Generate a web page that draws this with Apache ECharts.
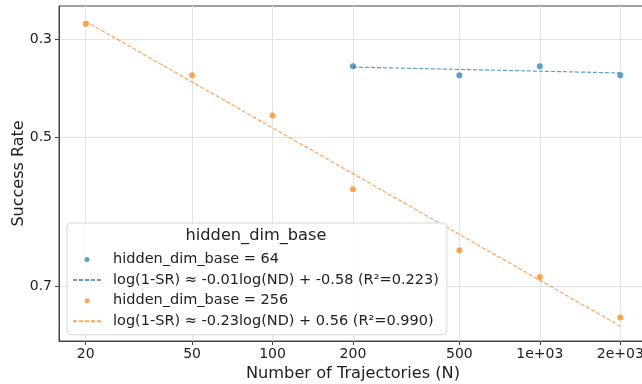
<!DOCTYPE html>
<html>
<head>
<meta charset="utf-8">
<script src="https://cdn.jsdelivr.net/npm/echarts@6/dist/echarts.min.js"></script>
<style>html,body{margin:0;padding:0;background:#fff}#c{width:642px;height:384px}</style>
</head>
<body>
<div id="c"></div>
<script>
// x: number of trajectories, y: success rate (plotted as 1 - SR on a log axis)
const xTicks = [20, 50, 100, 200, 500, 1000, 2000];
const xTickLabels = ['20', '50', '100', '200', '500', '1e+03', '2e+03'];
const yTicks = [0.3, 0.5, 0.7];

const n64 = [200, 500, 1000, 2000];
const sr64 = [0.361, 0.3805, 0.361, 0.3805];
const fit64N = [200, 2000];
const fit64SR = [0.363, 0.3757];

const n256 = [20, 50, 100, 200, 500, 1000, 2000];
const sr256 = [0.2616, 0.3805, 0.4605, 0.581, 0.660, 0.690, 0.730];
const fit256N = [20, 2000];
const fit256SR = [0.2547, 0.738];

const names = [
  'hidden_dim_base = 64',
  'log(1-SR) ≈ -0.01log(ND) + -0.58 (R²=0.223)',
  'hidden_dim_base = 256',
  'log(1-SR) ≈ -0.23log(ND) + 0.56 (R²=0.990)'
];
const legendTitle = 'hidden_dim_base';

const toPts = (xs, srs) => xs.map((x, i) => [x, 1 - srs[i]]);
const FONT = 'DejaVu Sans';
const BLUE = '#1f77b4', ORANGE = '#ff7f0e';
const dotIcon = 'path://M0,0M28,14M11.5,7a2.5,2.5 0 1,0 5,0a2.5,2.5 0 1,0 -5,0';

const chart = echarts.init(document.getElementById('c'), null, {renderer: 'canvas'});
chart.setOption({
  animation: false,
  backgroundColor: '#fff',
  grid: {left: 59, top: 6, width: 588, height: 335, show: true, borderColor: '#444', borderWidth: 1,
         containLabel: false, outerBoundsMode: 'none'},
  xAxis: {
    type: 'log', logBase: 10, min: 15.89, max: 2518,
    name: 'Number of Trajectories (N)', nameLocation: 'middle', nameGap: 25, nameMoveOverlap: false,
    nameTextStyle: {fontFamily: FONT, fontSize: 16.2, color: '#222'},
    axisLine: {show: true, lineStyle: {color: '#444', width: 1}},
    axisTick: {show: true, length: 4, inside: false, customValues: xTicks, lineStyle: {color: '#444'}},
    minorTick: {show: false},
    axisLabel: {customValues: xTicks, margin: 6, fontFamily: FONT, fontSize: 14, color: '#222',
      formatter: v => { const i = xTicks.findIndex(t => Math.abs(t - v) / t < 1e-6); return i >= 0 ? xTickLabels[i] : ''; }},
    splitLine: {show: true, lineStyle: {color: '#e3e3e3', width: 1}},
    minorSplitLine: {show: false}
  },
  yAxis: {
    type: 'log', logBase: 10, min: 0.249, max: 0.7854,
    name: 'Success Rate', nameLocation: 'middle', nameGap: 32, nameRotate: 90, nameMoveOverlap: false,
    nameTextStyle: {fontFamily: FONT, fontSize: 16, color: '#222'},
    axisLine: {show: true, lineStyle: {color: '#444', width: 1}},
    axisTick: {show: true, length: 4, customValues: yTicks.map(s => 1 - s), lineStyle: {color: '#444'}},
    axisLabel: {customValues: yTicks.map(s => 1 - s), margin: 7, fontFamily: FONT, fontSize: 14, color: '#222',
      formatter: v => (1 - v).toFixed(1)},
    splitLine: {show: true, lineStyle: {color: '#e3e3e3', width: 1}},
    minorTick: {show: false}, minorSplitLine: {show: false}
  },
  legend: {
    orient: 'vertical', left: 67, top: 223,
    padding: [29, 8, 6, 5],
    itemWidth: 28, itemHeight: 14, itemGap: 5.6,
    backgroundColor: 'rgba(255,255,255,0.85)', borderColor: '#d6d6d6', borderWidth: 1, borderRadius: 4,
    textStyle: {fontFamily: FONT, fontSize: 14.5, lineHeight: 14, color: '#222', padding: [0, 0, 0, 7]},
    selectedMode: false,
    data: [
      {name: names[0], icon: dotIcon},
      {name: names[1], itemStyle: {opacity: 0}},
      {name: names[2], icon: dotIcon},
      {name: names[3], itemStyle: {opacity: 0}}
    ]
  },
  graphic: [{
    type: 'text', x: 256, y: 236, z: 100,
    style: {text: legendTitle, textAlign: 'center', textVerticalAlign: 'middle',
            fontFamily: FONT, fontSize: 16.2, fill: '#222'}
  }],
  series: [
    {name: names[0], type: 'scatter', data: toPts(n64, sr64), symbolSize: 6,
     itemStyle: {color: BLUE, opacity: 0.7}, z: 3},
    {name: names[1], type: 'line', data: toPts(fit64N, fit64SR), symbol: 'none',
     lineStyle: {color: BLUE, width: 1.2, type: [4, 2], opacity: 0.7}, itemStyle: {color: BLUE}, z: 2},
    {name: names[2], type: 'scatter', data: toPts(n256, sr256), symbolSize: 6,
     itemStyle: {color: ORANGE, opacity: 0.7}, z: 3},
    {name: names[3], type: 'line', data: toPts(fit256N, fit256SR), symbol: 'none',
     lineStyle: {color: ORANGE, width: 1.2, type: [4, 2], opacity: 0.7}, itemStyle: {color: ORANGE}, z: 2}
  ]
});
</script>
</body>
</html>
